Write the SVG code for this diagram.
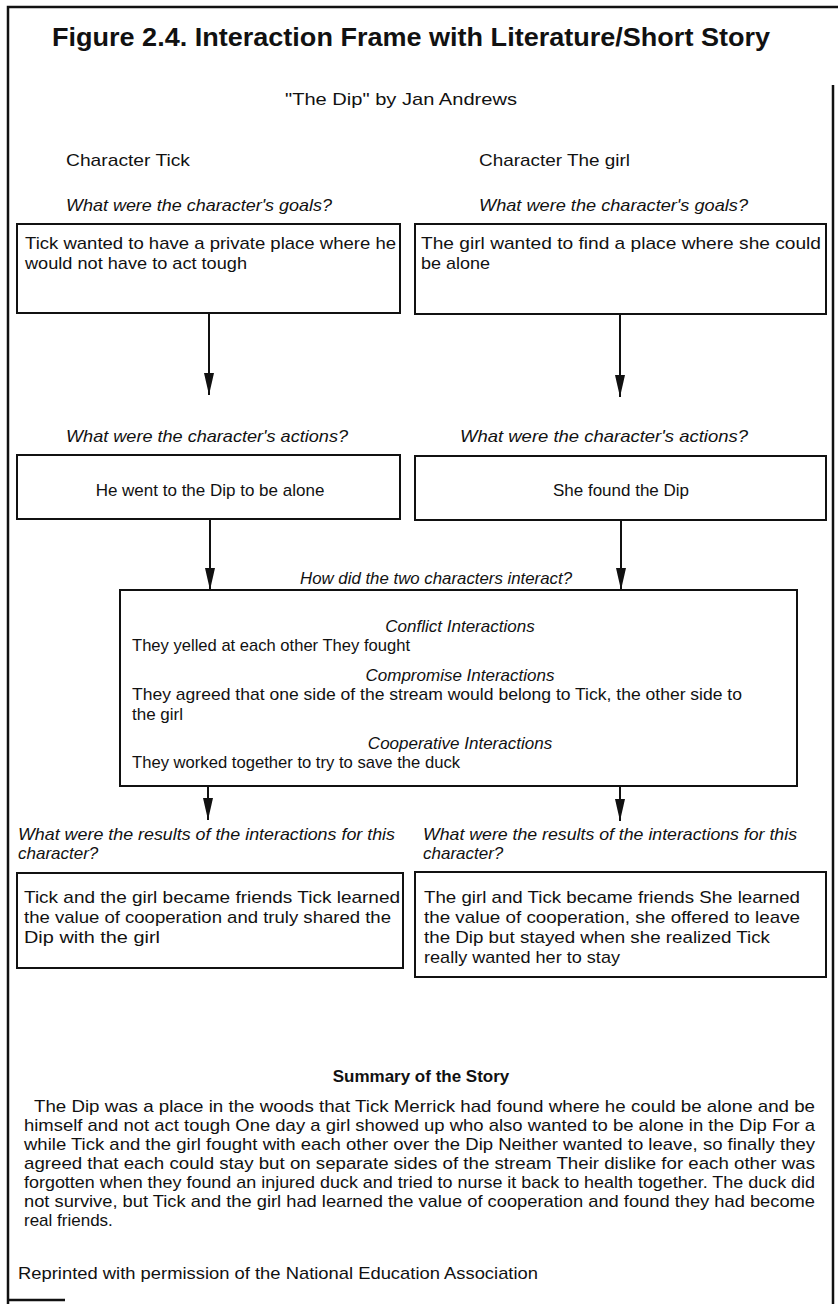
<svg xmlns="http://www.w3.org/2000/svg" width="838" height="1304" viewBox="0 0 838 1304">
  <style>
    .t { font-family: "Liberation Sans", Arial, sans-serif; font-size: 17px; fill: #111; }
    .i { font-style: italic; }
    .b { font-weight: bold; }
    .title { font-family: "Liberation Sans", Arial, sans-serif; font-size: 25px; font-weight: bold; fill: #111; }
    .box { fill: none; stroke: #111; stroke-width: 2; }
    .frame { fill: none; stroke: #111; stroke-width: 2.5; }
    .conn { stroke: #111; stroke-width: 2; fill: none; marker-end: url(#head); }
  </style>
  <defs>
    <marker id="head" markerUnits="userSpaceOnUse" orient="auto" markerWidth="24" markerHeight="12" refX="22" refY="5">
      <path d="M0,0 L22,5 L0,10 z" fill="#111"/>
    </marker>
  </defs>
  <rect width="838" height="1304" fill="#fff"/>

  <!-- outer frame -->
  <g id="frame">
    <path class="frame" d="M8,1304 L8,7 L838,7"/>
    <path class="frame" d="M833,85 L833,1304"/>
    <path class="frame" d="M8,1300 L65,1300"/>
  </g>

  <!-- heading -->
  <g id="heading">
    <text class="title" x="411" y="46" text-anchor="middle" textLength="718" lengthAdjust="spacingAndGlyphs">Figure 2.4. Interaction Frame with Literature/Short Story</text>
    <text class="t" x="285" y="105" textLength="232" lengthAdjust="spacingAndGlyphs">"The Dip" by Jan Andrews</text>
  </g>

  <!-- character labels and questions -->
  <g id="labels">
    <text class="t" x="66" y="166" textLength="124" lengthAdjust="spacingAndGlyphs">Character  Tick</text>
    <text class="t" x="479" y="166" textLength="151" lengthAdjust="spacingAndGlyphs">Character  The girl</text>
    <text class="t i" x="66" y="211" textLength="266" lengthAdjust="spacingAndGlyphs">What were the character's goals?</text>
    <text class="t i" x="479" y="211" textLength="269" lengthAdjust="spacingAndGlyphs">What were the character's goals?</text>
    <text class="t i" x="66" y="442" textLength="282" lengthAdjust="spacingAndGlyphs">What were the character's actions?</text>
    <text class="t i" x="460" y="442" textLength="288" lengthAdjust="spacingAndGlyphs">What were the character's actions?</text>
    <text class="t i" x="300" y="584" textLength="272" lengthAdjust="spacingAndGlyphs">How did the two characters interact?</text>
    <text class="t i" x="18" y="840" textLength="377" lengthAdjust="spacingAndGlyphs">What were the results of the interactions for this</text>
    <text class="t i" x="18" y="859">character?</text>
    <text class="t i" x="423" y="840" textLength="374" lengthAdjust="spacingAndGlyphs">What were the results of the interactions for this</text>
    <text class="t i" x="423" y="859">character?</text>
  </g>

  <!-- goal boxes -->
  <g id="goal-tick">
    <rect class="box" x="17" y="224" width="383" height="89"/>
    <text class="t" x="25" y="249" textLength="371" lengthAdjust="spacingAndGlyphs">Tick wanted to have a private place where he</text>
    <text class="t" x="25" y="269" textLength="222" lengthAdjust="spacingAndGlyphs">would not have to act tough</text>
  </g>
  <g id="goal-girl">
    <rect class="box" x="415" y="224" width="411" height="90"/>
    <text class="t" x="421" y="249" textLength="400" lengthAdjust="spacingAndGlyphs">The girl wanted to find a place where she could</text>
    <text class="t" x="421" y="269" textLength="69" lengthAdjust="spacingAndGlyphs">be alone</text>
  </g>

  <!-- action boxes -->
  <g id="action-tick">
    <rect class="box" x="17" y="455" width="383" height="64"/>
    <text class="t" x="210" y="496" text-anchor="middle">He went to the Dip to be alone</text>
  </g>
  <g id="action-girl">
    <rect class="box" x="415" y="456" width="411" height="64"/>
    <text class="t" x="621" y="496" text-anchor="middle">She found the Dip</text>
  </g>

  <!-- interaction box -->
  <g id="interactions">
    <rect class="box" x="120" y="590" width="677" height="196"/>
    <text class="t i" x="460" y="632" text-anchor="middle">Conflict Interactions</text>
    <text class="t" x="132" y="651" textLength="278" lengthAdjust="spacingAndGlyphs">They yelled at each other  They fought</text>
    <text class="t i" x="460" y="681" text-anchor="middle">Compromise Interactions</text>
    <text class="t" x="132" y="700" textLength="610" lengthAdjust="spacingAndGlyphs">They agreed that one side of the stream would belong to Tick, the other side to</text>
    <text class="t" x="132" y="720">the girl</text>
    <text class="t i" x="460" y="749" text-anchor="middle">Cooperative Interactions</text>
    <text class="t" x="132" y="768" textLength="328" lengthAdjust="spacingAndGlyphs">They worked together to try to save the duck</text>
  </g>

  <!-- result boxes -->
  <g id="result-tick">
    <rect class="box" x="17" y="873" width="386" height="95"/>
    <text class="t" x="24" y="903" textLength="376" lengthAdjust="spacingAndGlyphs">Tick and the girl became friends  Tick learned</text>
    <text class="t" x="24" y="923" textLength="367" lengthAdjust="spacingAndGlyphs">the value of cooperation and truly shared the</text>
    <text class="t" x="24" y="943" textLength="136" lengthAdjust="spacingAndGlyphs">Dip with the girl</text>
  </g>
  <g id="result-girl">
    <rect class="box" x="415" y="872" width="411" height="105"/>
    <text class="t" x="424" y="903" textLength="376" lengthAdjust="spacingAndGlyphs">The girl and Tick became friends  She learned</text>
    <text class="t" x="424" y="923" textLength="376" lengthAdjust="spacingAndGlyphs">the value of cooperation, she offered to leave</text>
    <text class="t" x="424" y="943" textLength="346" lengthAdjust="spacingAndGlyphs">the Dip but stayed when she realized Tick</text>
    <text class="t" x="424" y="963" textLength="196" lengthAdjust="spacingAndGlyphs">really wanted her to stay</text>
  </g>

  <!-- summary -->
  <g id="summary">
    <text class="t b" x="421" y="1082" text-anchor="middle">Summary of the Story</text>
    <text class="t" x="34" y="1112" textLength="781" lengthAdjust="spacingAndGlyphs">The Dip was a place in the woods that Tick Merrick had found where he could be alone and be</text>
    <text class="t" x="24" y="1131" textLength="791" lengthAdjust="spacingAndGlyphs">himself and not act tough  One day a girl showed up who also wanted to be alone in the Dip  For a</text>
    <text class="t" x="24" y="1150" textLength="791" lengthAdjust="spacingAndGlyphs">while Tick and the girl fought with each other over the Dip  Neither wanted to leave, so finally they</text>
    <text class="t" x="24" y="1169" textLength="791" lengthAdjust="spacingAndGlyphs">agreed that each could stay but on separate sides of the stream  Their dislike for each other was</text>
    <text class="t" x="24" y="1188" textLength="791" lengthAdjust="spacingAndGlyphs">forgotten when they found an injured duck and tried to nurse it back to health together. The duck did</text>
    <text class="t" x="24" y="1207" textLength="791" lengthAdjust="spacingAndGlyphs">not survive, but Tick and the girl had learned the value of cooperation and found they had become</text>
    <text class="t" x="24" y="1226">real friends.</text>
    <text class="t" x="18" y="1279" textLength="520" lengthAdjust="spacingAndGlyphs">Reprinted with permission of the National Education Association</text>
  </g>

  <!-- connectors -->
  <g id="connectors">
    <line class="conn" x1="209" y1="313" x2="209" y2="395"/>
    <line class="conn" x1="620" y1="314" x2="620" y2="397"/>
    <line class="conn" x1="210" y1="519" x2="210" y2="590"/>
    <line class="conn" x1="621" y1="520" x2="621" y2="590"/>
    <line class="conn" x1="208" y1="786" x2="208" y2="820"/>
    <line class="conn" x1="620" y1="786" x2="620" y2="821"/>
  </g>
</svg>
